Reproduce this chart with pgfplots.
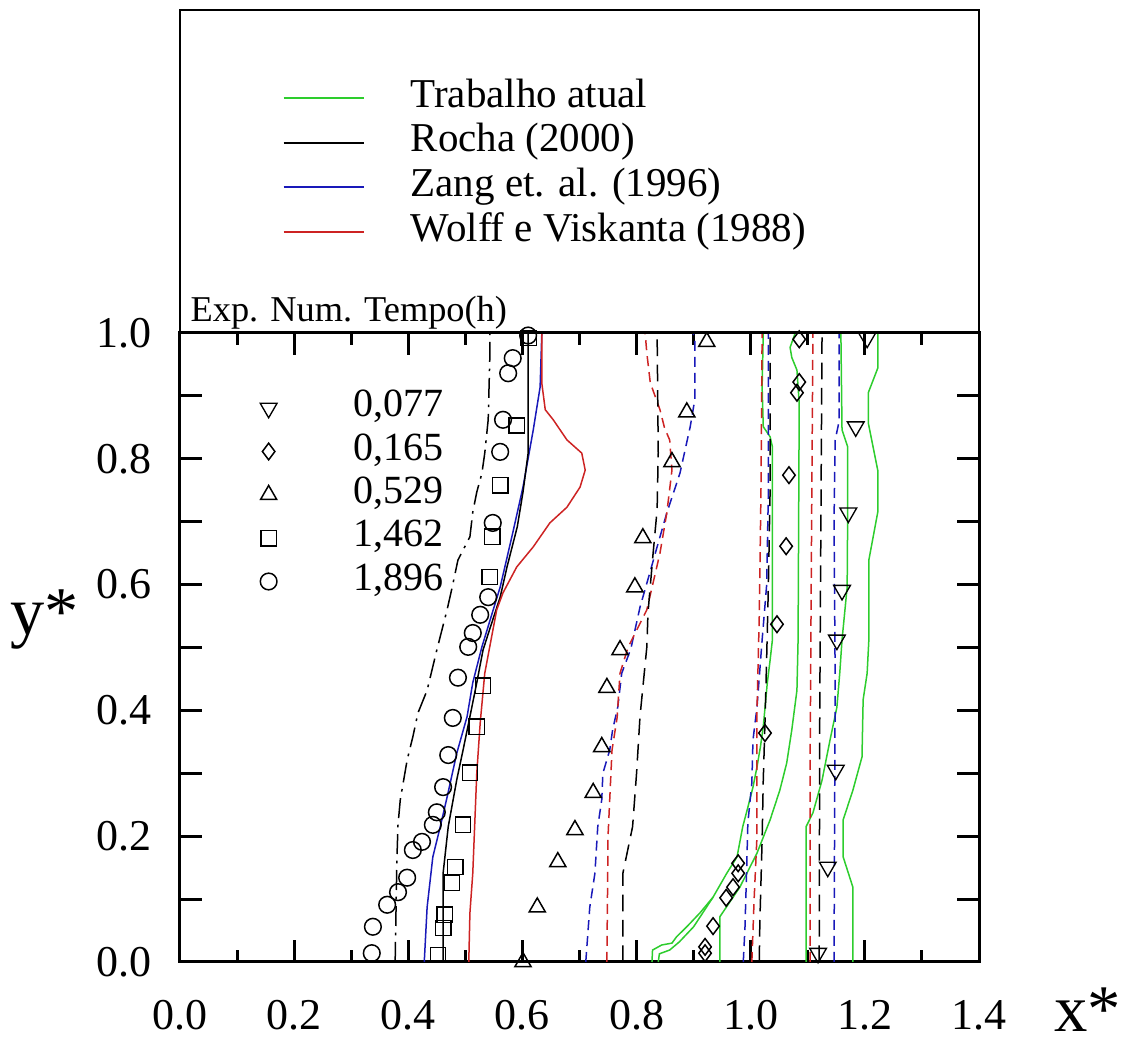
\documentclass[border=0pt]{standalone}
\usepackage{fontspec}
\setmainfont{Liberation Serif}
\usepackage{pgfplots}
\pgfplotsset{compat=1.18}
\definecolor{cgreen}{RGB}{45,205,45}
\definecolor{cblue}{RGB}{25,25,185}
\definecolor{cred}{RGB}{205,35,35}

\pgfplotsset{
  frame/.style={
    at={(0,0)}, anchor=south west,
    scale only axis, width=239.7pt, height=188.7pt,
    xmin=0, xmax=1.4, ymin=0, ymax=1, clip=false,
  },
  thin line/.style={line width=0.45pt, forget plot},
  sdash/.style={dash pattern=on 3pt off 1.8pt},
  ldash/.style={dash pattern=on 5pt off 2.6pt},
  dashdot/.style={dash pattern=on 6pt off 2pt on 0.8pt off 2pt},
  mk/.style={only marks, black, mark options={line width=0.45pt, fill=none, solid}},
}

\begin{document}
\begin{tikzpicture}
\path[use as bounding box] (-54pt,-24pt) rectangle (286.5pt,288.6pt);

% ---------- lines, axis frame, first legend ----------
\begin{axis}[
  frame,
  axis line style={line width=0.9pt},
  tick style={line width=0.9pt, black},
  tick align=inside,
  major tick length=6.6pt, minor tick length=3.6pt,
  xtick={0,0.2,0.4,0.6,0.8,1.0,1.2,1.4},
  xticklabels={0.0,0.2,0.4,0.6,0.8,1.0,1.2,1.4},
  minor xtick={0.1,0.3,0.5,0.7,0.9,1.1,1.3},
  ytick={0,0.1,0.2,0.3,0.4,0.5,0.6,0.7,0.8,0.9,1.0},
  yticklabels={0.0,,0.2,,0.4,,0.6,,0.8,,1.0},
  xticklabel style={font=\fontsize{13.2}{15}\selectfont, yshift=-8pt},
  yticklabel style={font=\fontsize{13.2}{15}\selectfont, xshift=-5pt},
  xlabel={x*}, ylabel={y*},
  xlabel style={at={(axis description cs:1.136,-0.076)}, anchor=center, inner sep=0pt, font=\fontsize{20}{24}\selectfont},
  ylabel style={at={(axis description cs:-0.169,0.544)}, anchor=center, inner sep=0pt, rotate=-90, font=\fontsize{20.5}{24}\selectfont},
  legend style={draw=none, fill=none, at={(axis description cs:0.1277,1.41)}, anchor=north west,
    inner sep=0pt, font=\fontsize{12.3}{14}\selectfont, row sep=0pt, column sep=13.8pt,
    nodes={inner sep=0pt, text height=9.4pt, text depth=4.0pt}},
  legend cell align=left,
  legend image code/.code={\draw[#1] (0pt,0pt) -- (24pt,0pt);},
]
\addlegendimage{cgreen, line width=0.6pt}\addlegendentry{Trabalho atual}
\addlegendimage{black, line width=0.6pt}\addlegendentry{Rocha (2000)}
\addlegendimage{cblue, line width=0.6pt}\addlegendentry{Zang et. al. (1996)}
\addlegendimage{cred, line width=0.6pt}\addlegendentry{Wolff e Viskanta (1988)}

% left group
\addplot[thin line, black, dashdot] coordinates {
 (0.377,0) (0.380,0.162) (0.382,0.218) (0.386,0.258) (0.398,0.321) (0.408,0.358)
 (0.417,0.396) (0.433,0.432) (0.450,0.496) (0.468,0.560) (0.477,0.596) (0.487,0.639)
 (0.508,0.676) (0.513,0.715) (0.520,0.747) (0.529,0.777) (0.534,0.809) (0.540,0.862)
 (0.543,0.965) (0.543,1.0)};
\addplot[thin line, cblue] coordinates {
 (0.428,0) (0.433,0.087) (0.443,0.167) (0.456,0.215) (0.468,0.262) (0.485,0.332)
 (0.503,0.390) (0.513,0.444) (0.529,0.501) (0.561,0.596) (0.583,0.682) (0.601,0.755)
 (0.619,0.846) (0.631,0.914) (0.634,1.0)};
\addplot[thin line, black] coordinates {
 (0.461,0) (0.461,0.141) (0.470,0.215) (0.485,0.290) (0.496,0.337) (0.508,0.390)
 (0.520,0.444) (0.531,0.496) (0.543,0.530) (0.561,0.580) (0.573,0.628) (0.591,0.692)
 (0.601,0.747) (0.610,0.809) (0.610,1.0)};
\addplot[thin line, cred] coordinates {
 (0.506,0) (0.508,0.078) (0.513,0.141) (0.520,0.300) (0.526,0.380) (0.534,0.459)
 (0.545,0.512) (0.555,0.560) (0.566,0.587) (0.590,0.628) (0.619,0.660) (0.648,0.698)
 (0.678,0.723) (0.701,0.755) (0.710,0.782) (0.704,0.809) (0.678,0.830) (0.654,0.862)
 (0.640,0.878) (0.634,0.920) (0.634,1.0)};

% middle group
\addplot[thin line, cblue, sdash] coordinates {
 (0.711,0) (0.718,0.087) (0.727,0.141) (0.732,0.215) (0.739,0.258) (0.741,0.300)
 (0.753,0.337) (0.758,0.369) (0.767,0.405) (0.774,0.459) (0.790,0.498) (0.806,0.564)
 (0.823,0.618) (0.836,0.660) (0.853,0.714) (0.876,0.777) (0.894,0.851) (0.902,0.894)
 (0.902,0.989) (0.899,1.0)};
\addplot[thin line, cred, sdash] coordinates {
 (0.748,0) (0.750,0.200) (0.757,0.337) (0.766,0.389) (0.771,0.459) (0.785,0.500)
 (0.818,0.560) (0.841,0.650) (0.853,0.714) (0.862,0.782) (0.858,0.830) (0.849,0.849)
 (0.841,0.878) (0.824,0.921) (0.818,0.968) (0.815,1.0)};
\addplot[thin line, black, ldash] coordinates {
 (0.776,0) (0.776,0.141) (0.793,0.215) (0.800,0.300) (0.806,0.390) (0.818,0.501)
 (0.820,0.555) (0.829,0.650) (0.836,0.719) (0.838,0.809) (0.836,1.0)};

% green lines
\addplot[thin line, cgreen] coordinates {
 (0.827,0) (0.828,0.019) (0.844,0.027) (0.862,0.030) (0.870,0.040) (0.888,0.056)
 (0.911,0.078) (0.934,0.103) (0.958,0.141) (0.976,0.167) (0.986,0.215) (0.995,0.246)
 (1.004,0.278) (1.011,0.310) (1.017,0.342) (1.022,0.374) (1.029,0.443) (1.034,0.480)
 (1.038,0.512) (1.038,0.819) (1.034,0.835) (1.022,0.851) (1.020,0.914) (1.022,1.0)};
\addplot[thin line, cgreen] coordinates {
 (0.838,0) (0.840,0.013) (0.858,0.019) (0.875,0.032) (0.900,0.056) (0.934,0.103)};
\addplot[thin line, cgreen] coordinates {
 (0.946,0) (0.946,0.072) (0.981,0.119) (1.011,0.173) (1.034,0.226) (1.051,0.273)
 (1.063,0.316) (1.072,0.369) (1.081,0.432) (1.083,0.512) (1.085,0.888) (1.081,0.941)
 (1.072,0.961) (1.069,0.977) (1.078,1.0)};
\addplot[thin line, cgreen] coordinates {
 (1.097,0) (1.097,0.215) (1.109,0.237) (1.125,0.289) (1.139,0.353) (1.151,0.405)
 (1.156,0.459) (1.160,0.512) (1.169,0.596) (1.170,0.723) (1.170,0.819) (1.160,0.846)
 (1.158,1.0)};
\addplot[thin line, cgreen] coordinates {
 (1.179,0) (1.179,0.119) (1.162,0.167) (1.162,0.226) (1.179,0.273) (1.195,0.326)
 (1.197,0.417) (1.204,0.459) (1.207,0.512) (1.207,0.639) (1.223,0.717) (1.223,0.780)
 (1.206,0.857) (1.206,0.905) (1.223,0.945) (1.223,1.0)};

% diamond group dashed lines
\addplot[thin line, cblue, sdash] coordinates {
 (0.987,0) (0.990,0.056) (0.993,0.151) (0.995,0.221) (1.002,0.285) (1.004,0.353)
 (1.011,0.405) (1.020,0.512) (1.028,0.600) (1.031,0.750) (1.031,1.0)};
\addplot[thin line, cred, sdash] coordinates {
 (1.002,0) (1.006,0.100) (1.011,0.200) (1.011,0.400) (1.015,0.550) (1.018,0.750) (1.020,1.0)};
\addplot[thin line, black, ldash] coordinates {
 (1.015,0) (1.016,0.062) (1.020,0.194) (1.022,0.289) (1.025,0.380) (1.028,0.485)
 (1.031,0.600) (1.034,0.750) (1.034,1.0)};

% right group dashed lines
\addplot[thin line, cred, sdash] coordinates {
 (1.104,0) (1.104,0.300) (1.106,0.600) (1.109,1.0)};
\addplot[thin line, black, ldash] coordinates {
 (1.120,0) (1.121,0.400) (1.125,1.0)};
\addplot[thin line, cblue, sdash] coordinates {
 (1.146,0) (1.148,0.450) (1.146,0.700) (1.148,0.830) (1.155,0.860) (1.155,1.0)};

% legend frame above the plot
\draw[line width=0.8pt] (axis cs:0,1) rectangle (axis cs:1.4,1.5135);
\node[anchor=base west, font=\fontsize{10.9}{12}\selectfont, inner sep=0pt]
  at (axis cs:0.0175,1.0175) {Exp. Num. Tempo(h)};
\end{axis}

% ---------- measured points and second legend ----------
\begin{axis}[
  frame, hide axis,
  legend style={draw=none, fill=none, at={(axis description cs:0.0976,0.916)}, anchor=north west,
    inner sep=0pt, font=\fontsize{12}{14}\selectfont, row sep=0pt, column sep=22.4pt,
    nodes={inner sep=0pt, text height=9.1pt, text depth=3.9pt}},
  legend cell align=left,
  legend image code/.code={\path[draw=none, fill=none] (-3pt,0pt) -- (3pt,0pt); \draw[#1] plot coordinates {(0pt,0pt)};},
]
\addplot[mk, mark=triangle, mark size=2.9pt, mark options={rotate=180}] coordinates {
 (1.204,0.992) (1.184,0.851) (1.171,0.714) (1.160,0.591) (1.151,0.512)
 (1.149,0.305) (1.135,0.151) (1.118,0.014)};
\addlegendentry{0,077}
\addplot[mk, mark=diamond, mark size=2.5pt] coordinates {
 (1.085,0.990) (1.085,0.922) (1.081,0.905) (1.067,0.774) (1.062,0.661) (1.046,0.537)
 (1.025,0.364) (0.978,0.157) (0.978,0.141) (0.969,0.119) (0.957,0.102) (0.934,0.057)
 (0.920,0.024) (0.920,0.014)};
\addlegendentry{0,165}
\addplot[mk, mark=triangle, mark size=2.8pt] coordinates {
 (0.601,0.0) (0.626,0.087) (0.662,0.159) (0.692,0.210) (0.724,0.269) (0.739,0.342)
 (0.748,0.436) (0.771,0.496) (0.797,0.596) (0.811,0.674) (0.862,0.795) (0.888,0.874)
 (0.923,0.986)};
\addlegendentry{0,529}
\addplot[mk, mark=square, mark size=2.3pt] coordinates {
 (0.452,0.011) (0.461,0.054) (0.464,0.075) (0.476,0.126) (0.482,0.151) (0.496,0.218)
 (0.508,0.301) (0.520,0.374) (0.531,0.439) (0.543,0.612) (0.547,0.676) (0.561,0.758)
 (0.590,0.853) (0.611,0.992)};
\addlegendentry{1,462}
\addplot[mk, mark=o, mark size=2.5pt] coordinates {
 (0.336,0.014) (0.338,0.056) (0.363,0.091) (0.382,0.111) (0.398,0.134) (0.408,0.178)
 (0.424,0.191) (0.443,0.218) (0.450,0.238) (0.461,0.278) (0.470,0.329) (0.478,0.388)
 (0.487,0.452) (0.505,0.501) (0.513,0.523) (0.526,0.552) (0.540,0.580) (0.548,0.698)
 (0.561,0.811) (0.566,0.862) (0.575,0.936) (0.583,0.960) (0.610,0.996)};
\addlegendentry{1,896}
\end{axis}
\end{tikzpicture}
\end{document}
